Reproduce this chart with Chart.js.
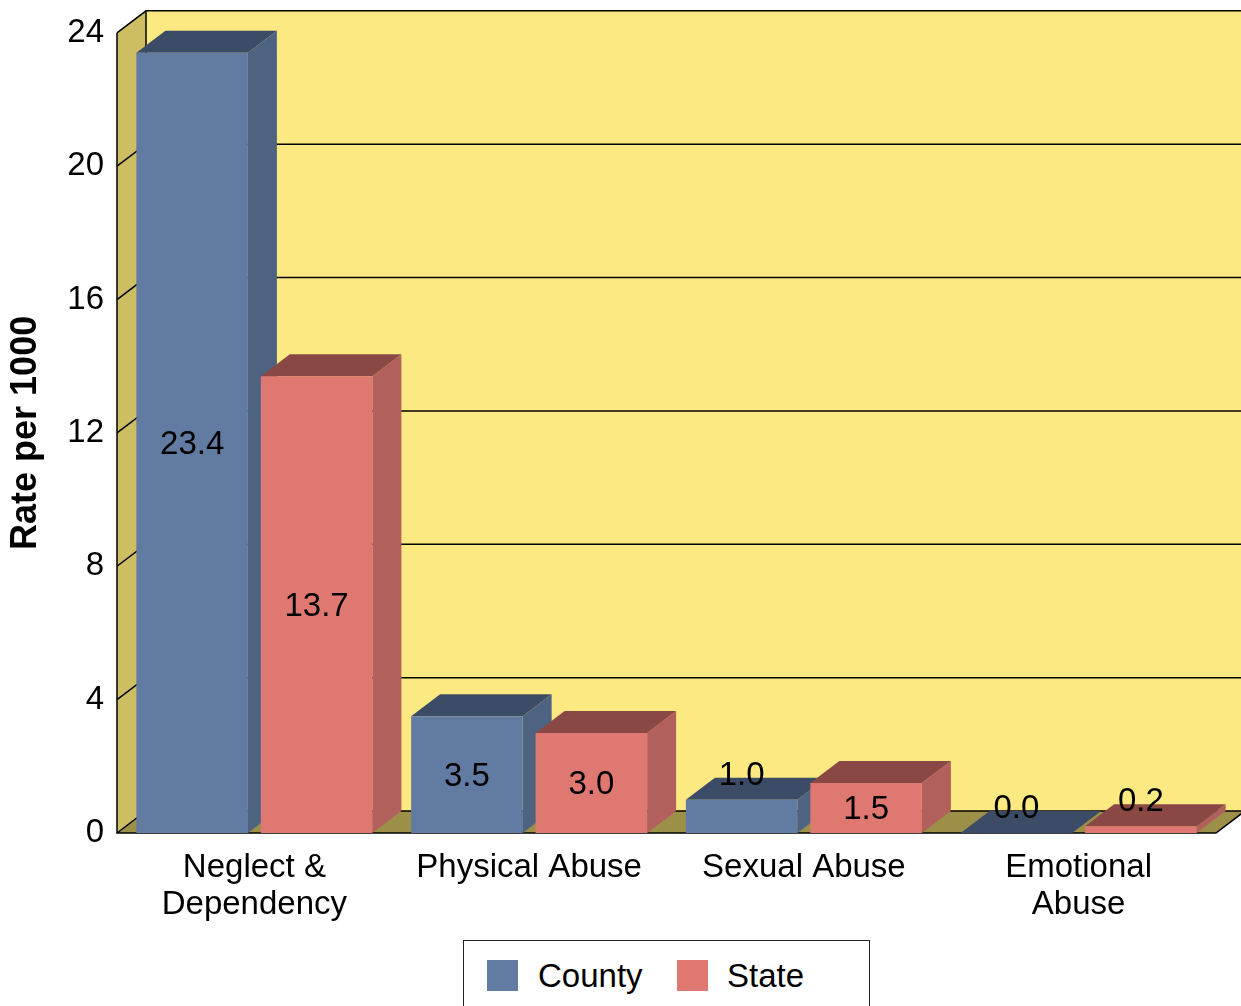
<!DOCTYPE html>
<html>
<head>
<meta charset="utf-8">
<script src="https://cdn.jsdelivr.net/npm/chart.js@4/dist/chart.umd.min.js"></script>
<style>
    body { margin: 0; background: #fff; font-family: "Liberation Sans", Arial, sans-serif; }
    #wrap { position: relative; width: 1241px; height: 1006px; overflow: hidden; }
    #legend {
        position: absolute; left: 463px; top: 940px; width: 405px; height: 90px;
        border: 1.5px solid #222; background: #fff;
    }
    .item { position: absolute; top: 18px; font-size: 33px; line-height: 33px; color: #000; }
    .swatch { position: absolute; top: 19px; width: 31px; height: 31px; }
</style>
</head>
<body>
<div id="wrap">
    <canvas id="chart" width="1241" height="1006"></canvas>
    <div id="legend">
        <div class="swatch" style="left:23px;background:#627BA3"></div>
        <div class="item" style="left:74px">County</div>
        <div class="swatch" style="left:213px;background:#DF7870"></div>
        <div class="item" style="left:263px">State</div>
    </div>
</div>
<script>
// data
const categories = [['Neglect &', 'Dependency'], 'Physical Abuse', 'Sexual Abuse', ['Emotional', 'Abuse']];
const countyRates = [23.4, 3.5, 1.0, 0.0];
const stateRates = [13.7, 3.0, 1.5, 0.2];
const yTicks = [0, 4, 8, 12, 16, 20, 24];

const FONT = '"Liberation Sans", Arial, sans-serif';
const DX = 29, DY = -22;

const shades = {
    County: { side: '#4E6282', top: '#3D4C66' },
    State: { side: '#B1605B', top: '#8A4845' }
};

function poly(ctx, pts, fill) {
    ctx.beginPath();
    ctx.moveTo(pts[0][0], pts[0][1]);
    for (let i = 1; i < pts.length; i++) ctx.lineTo(pts[i][0], pts[i][1]);
    ctx.closePath();
    ctx.fillStyle = fill;
    ctx.fill();
}

// back wall, side wall, floor and grid lines
const wallsPlugin = {
    id: 'walls',
    beforeDatasetsDraw(chart) {
        const ctx = chart.ctx;
        const a = chart.chartArea;
        const y = chart.scales.y;
        const top = y.getPixelForValue(24), base = y.getPixelForValue(0);
        ctx.save();
        poly(ctx, [[a.left + DX, top + DY], [chart.width, top + DY], [chart.width, base + DY], [a.left + DX, base + DY]], '#FDE981');
        poly(ctx, [[a.left, top], [a.left + DX, top + DY], [a.left + DX, base + DY], [a.left, base]], '#CDBE64');
        poly(ctx, [[a.left, base], [a.left + DX, base + DY], [a.right + DX, base + DY], [a.right, base]], '#9C9049');

        ctx.strokeStyle = '#000';
        ctx.lineWidth = 1.5;
        yTicks.forEach(t => {
            const py = y.getPixelForValue(t);
            ctx.beginPath();
            ctx.moveTo(a.left, py);
            ctx.lineTo(a.left + DX, py + DY);
            ctx.lineTo(chart.width, py + DY);
            ctx.stroke();
        });
        ctx.beginPath();
        ctx.moveTo(a.left + DX, top + DY);
        ctx.lineTo(a.left + DX, base + DY);
        ctx.moveTo(a.left, top);
        ctx.lineTo(a.left, base);
        ctx.lineTo(a.right, base);
        ctx.lineTo(a.right + DX, base + DY);
        ctx.stroke();

        // sides and tops of the bars
        chart.data.datasets.forEach((ds, di) => {
            const meta = chart.getDatasetMeta(di);
            const sh = shades[ds.label];
            meta.data.forEach(bar => {
                const l = bar.x - bar.width / 2, r = bar.x + bar.width / 2;
                const t = bar.y, b = bar.base;
                poly(ctx, [[r, t], [r + DX, t + DY], [r + DX, b + DY], [r, b]], sh.side);
                poly(ctx, [[l, t], [l + DX, t + DY], [r + DX, t + DY], [r, t]], sh.top);
            });
        });
        ctx.restore();
    },
    afterDatasetsDraw(chart) {
        const ctx = chart.ctx;
        ctx.save();
        ctx.font = '33px ' + FONT;
        ctx.fillStyle = '#000';
        ctx.textAlign = 'center';
        ctx.textBaseline = 'middle';
        chart.data.datasets.forEach((ds, di) => {
            chart.getDatasetMeta(di).data.forEach((bar, i) => {
                const h = bar.base - bar.y;
                const ly = h < 40 ? bar.y - 24 : (bar.y + bar.base) / 2 + 2;
                ctx.fillText(ds.data[i].toFixed(1), bar.x, ly);
            });
        });
        ctx.restore();
    }
};

new Chart(document.getElementById('chart'), {
    type: 'bar',
    data: {
        labels: categories,
        datasets: [
            { label: 'County', data: countyRates, backgroundColor: '#627BA3', borderWidth: 0 },
            { label: 'State', data: stateRates, backgroundColor: '#DF7870', borderWidth: 0 }
        ]
    },
    options: {
        responsive: false,
        animation: false,
        categoryPercentage: 0.906,
        barPercentage: 0.896,
        layout: { padding: { left: 0, right: 25, top: 32, bottom: 0 } },
        plugins: {
            legend: { display: false },
            tooltip: { enabled: false }
        },
        scales: {
            x: {
                grid: { display: false, drawTicks: false },
                border: { display: false },
                ticks: {
                    color: '#000', padding: 17, maxRotation: 0,
                    font: { family: FONT, size: 33, lineHeight: 1.1 }
                },
                afterFit(scale) { scale.height = 173; }
            },
            y: {
                min: 0, max: 24,
                afterBuildTicks(scale) { scale.ticks = yTicks.map(v => ({ value: v })); },
                grid: { display: false, drawTicks: false },
                border: { display: false },
                ticks: {
                    color: '#000', padding: 13,
                    font: { family: FONT, size: 33 }
                },
                title: {
                    display: true, text: 'Rate per 1000', color: '#000',
                    padding: { top: 4, bottom: 0 },
                    font: { family: FONT, size: 36, weight: 'bold' }
                },
                afterFit(scale) { scale.width = 117; }
            }
        }
    },
    plugins: [wallsPlugin]
});
</script>
</body>
</html>
